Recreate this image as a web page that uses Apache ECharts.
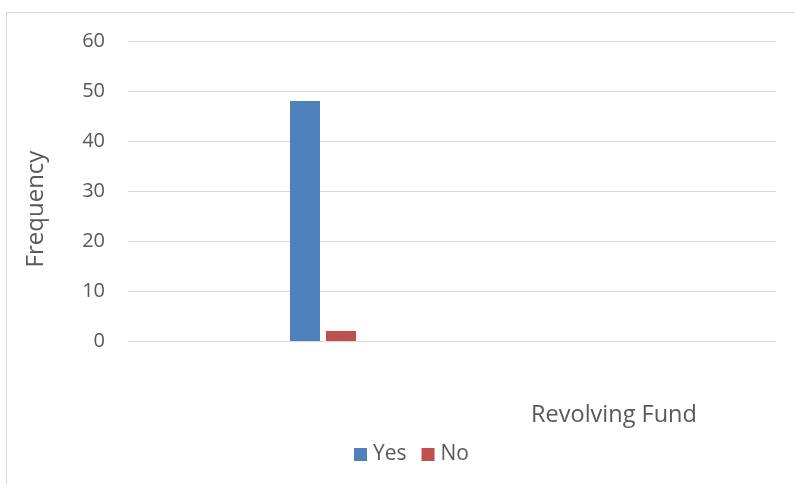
<!DOCTYPE html>
<html>
<head>
<meta charset="utf-8">
<script src="https://cdn.jsdelivr.net/npm/echarts@6/dist/echarts.min.js"></script>
<style>html,body{margin:0;padding:0;background:#fff}#c{width:795px;height:484px}</style>
</head>
<body>
<div id="c"></div>
<script>
var categories = ["", "Revolving Fund"];
var yesValues = [48, null];
var noValues = [2, null];
var yTicks = [0, 10, 20, 30, 40, 50, 60];

var chart = echarts.init(document.getElementById('c'), null, {renderer: 'canvas'});
var font = "'Open Sans', 'Noto Sans', sans-serif";
chart.setOption({
  animation: false,
  backgroundColor: '#ffffff',
  graphic: [{
    type: 'rect', shape: {x: 6.5, y: 12.5, width: 800, height: 480},
    style: {fill: 'none', stroke: '#D9D9D9', lineWidth: 1}, silent: true
  }],
  grid: {left: 128, right: 19, top: 41, bottom: 143, containLabel: false},
  legend: {
    data: ['Yes', 'No'], top: 444, left: 354, itemWidth: 13, itemHeight: 13, itemGap: 15,
    icon: 'rect', padding: 0,
    textStyle: {color: '#595959', fontSize: 21, fontFamily: font, lineHeight: 14, padding: [0, 0, 0, 1]}
  },
  xAxis: {
    type: 'category', data: categories,
    axisLine: {show: true, lineStyle: {color: '#D9D9D9', width: 1}},
    axisTick: {show: false},
    axisLabel: {color: '#595959', fontSize: 23.5, fontFamily: font, margin: 62, interval: 0}
  },
  yAxis: {
    type: 'value', min: yTicks[0], max: yTicks[yTicks.length - 1], interval: 10,
    name: 'Frequency', nameLocation: 'middle', nameGap: 80, nameRotate: 90,
    nameTextStyle: {color: '#595959', fontSize: 24, fontFamily: font, padding: [0, 36, 0, 0]},
    axisLine: {show: false}, axisTick: {show: false},
    axisLabel: {color: '#595959', fontSize: 20, fontFamily: font, margin: 23},
    splitLine: {lineStyle: {color: '#D9D9D9', width: 1}}
  },
  series: [
    {name: 'spacer', type: 'bar', data: [null, null], barWidth: 55, barGap: '20%', itemStyle: {color: 'rgba(0,0,0,0)'}, silent: true},
    {name: 'Yes', type: 'bar', data: yesValues, barWidth: 30, barGap: '20%', itemStyle: {color: '#4F81BD'}},
    {name: 'No', type: 'bar', data: noValues, barWidth: 30, barGap: '20%', itemStyle: {color: '#C0504D'}}
  ]
});
</script>
</body>
</html>
